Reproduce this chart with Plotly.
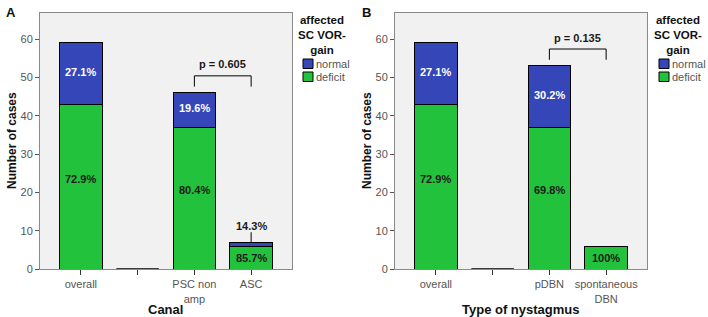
import plotly.graph_objects as go

# ---------------- data ----------------
cats_a = ["overall", " ", "PSC non<br>amp", "ASC"]
deficit_a = [43, 0, 37, 6]
normal_a = [16, 0, 9, 1]

cats_b = ["overall", " ", "pDBN", "spontaneous<br>DBN"]
deficit_b = [43, 0, 37, 6]
normal_b = [16, 0, 16, 0]

series_names = ["normal", "deficit"]
legend_title = "affected<br>SC VOR-<br>gain"

p_a = "p = 0.605"
p_b = "p = 0.135"

BLUE = "#3446b8"
GREEN = "#22c23c"
FONT = "Arial, Liberation Sans, sans-serif"
TICKC = "#555555"
W, H = 708, 317

fig = go.Figure()

def pct(a, tot):
    v = 100.0 * a / tot
    return "100%" if round(v, 1) == 100 else f"{v:.1f}%"

panels = [
    dict(cats=cats_a, d=deficit_a, n=normal_a, xa="x", ya="y", p=p_a, title="Canal",
         dom=[40 / W, 292 / W], legx=303, letter="A", letx=4),
    dict(cats=cats_b, d=deficit_b, n=normal_b, xa="x2", ya="y2", p=p_b, title="Type of nystagmus",
         dom=[395 / W, 647 / W], legx=659, letter="B", letx=360),
]

annotations = []
shapes = []
YMAX = 66.8
ydom = [1 - 269 / H, 1 - 13 / H]

for k, P in enumerate(panels):
    fig.add_trace(go.Bar(x=P["cats"], y=P["d"], name="deficit", marker=dict(color=GREEN, line=dict(color="black", width=1)),
                         xaxis=P["xa"], yaxis=P["ya"], width=0.75, hoverinfo="skip", showlegend=False))
    fig.add_trace(go.Bar(x=P["cats"], y=P["n"], name="normal", marker=dict(color=BLUE, line=dict(color="black", width=1)),
                         xaxis=P["xa"], yaxis=P["ya"], width=0.75, hoverinfo="skip", showlegend=False))
    for i, (d, n) in enumerate(zip(P["d"], P["n"])):
        tot = d + n
        if tot == 0:
            # zero-height bar outline for the empty category
            shapes.append(dict(type="line", xref=P["xa"], yref=P["ya"], x0=i - 0.375, x1=i + 0.375, y0=0, y1=0,
                               line=dict(color="black", width=1.5)))
            continue
        annotations.append(dict(xref=P["xa"], yref=P["ya"], x=P["cats"][i], y=min(d / 2 + 2, d - 3) if d > 10 else d / 2,
                                text="<b>" + pct(d, tot) + "</b>", showarrow=False,
                                font=dict(family=FONT, size=11, color="#1a1a1a")))
        if n > 0:
            if n >= 4:
                annotations.append(dict(xref=P["xa"], yref=P["ya"], x=P["cats"][i], y=d + n / 2 + 0.5,
                                        text="<b>" + pct(n, tot) + "</b>", showarrow=False,
                                        font=dict(family=FONT, size=11, color="white")))
            else:
                shapes.append(dict(type="line", xref=P["xa"], yref=P["ya"], x0=i, x1=i, y0=tot, y1=tot + 2.6,
                                   line=dict(color="black", width=1)))
                annotations.append(dict(xref=P["xa"], yref=P["ya"], x=P["cats"][i], y=tot + 4.1,
                                        text="<b>" + pct(n, tot) + "</b>", showarrow=False,
                                        font=dict(family=FONT, size=11, color="#1a1a1a")))
    # p-value bracket between categories 2 and 3
    top = max(P["d"][2] + P["n"][2], P["d"][3] + P["n"][3])
    ybar = top + 4.4
    shapes.append(dict(type="path", xref=P["xa"], yref=P["ya"],
                       path=f"M 2,{ybar - 2.8} L 2,{ybar} L 3,{ybar} L 3,{ybar - 2.8}",
                       line=dict(color="black", width=1)))
    annotations.append(dict(xref=P["xa"], yref=P["ya"], x=2.5, y=ybar + 3.0, text="<b>" + P["p"] + "</b>",
                            showarrow=False, font=dict(family=FONT, size=11, color="#1a1a1a")))
    # axis titles
    annotations.append(dict(xref="paper", yref="paper", x=sum(P["dom"]) / 2, y=1 - 309 / H,
                            xanchor="center", yanchor="middle",
                            text="<b>" + P["title"] + "</b>", showarrow=False,
                            font=dict(family=FONT, size=13, color="#111")))
    annotations.append(dict(xref="paper", yref="paper", x=P["dom"][0] - 28 / W, y=sum(ydom) / 2,
                            xanchor="center", yanchor="middle",
                            text="<b>Number of cases</b>", textangle=-90, showarrow=False,
                            font=dict(family=FONT, size=12, color="#111")))
    # panel letter
    annotations.append(dict(xref="paper", yref="paper", x=P["letx"] / W, y=1 - 3 / H, xanchor="left", yanchor="top",
                            text="<b>" + P["letter"] + "</b>", showarrow=False,
                            font=dict(family=FONT, size=13, color="#111")))
    # legend (manual)
    lx = P["legx"]
    annotations.append(dict(xref="paper", yref="paper", x=(lx + 19) / W, y=1 - 35 / H,
                            xanchor="center", yanchor="middle",
                            text="<b>" + legend_title + "</b>", showarrow=False,
                            font=dict(family=FONT, size=11.5, color="#111")))
    for j, (nm, col) in enumerate(zip(series_names, [BLUE, GREEN])):
        y0 = 59 + 13 * j
        shapes.append(dict(type="rect", xref="paper", yref="paper", x0=lx / W, x1=(lx + 10) / W,
                           y0=1 - y0 / H, y1=1 - (y0 + 9.5) / H, fillcolor=col, line=dict(color="black", width=1)))
        annotations.append(dict(xref="paper", yref="paper", x=(lx + 11) / W, y=1 - (y0 + 5) / H,
                                xanchor="left", yanchor="middle", text=nm, showarrow=False,
                                font=dict(family=FONT, size=11, color="#555")))

xcommon = dict(range=[-0.72, 3.72], showline=True, mirror=True, linecolor="#8a8a8a", linewidth=1,
               ticks="outside", ticklen=5, tickcolor="#333", showgrid=False, zeroline=False,
               tickfont=dict(family=FONT, size=11, color=TICKC), fixedrange=True)
ycommon = dict(range=[0, YMAX], showline=True, mirror=True, linecolor="#8a8a8a", linewidth=1,
               ticks="outside", ticklen=4, tickcolor="#555", showgrid=False, zeroline=False, dtick=10,
               tickfont=dict(family=FONT, size=11, color=TICKC), domain=ydom, fixedrange=True)

fig.update_layout(
    width=W, height=H, margin=dict(l=0, r=0, t=0, b=0, autoexpand=False),
    paper_bgcolor="white", plot_bgcolor="#f1f1f1",
    barmode="stack", bargap=0.25, showlegend=False,
    xaxis=dict(domain=panels[0]["dom"], anchor="y", automargin=False, **xcommon),
    yaxis=dict(anchor="x", automargin=False, **ycommon),
    xaxis2=dict(domain=panels[1]["dom"], anchor="y2", automargin=False, **xcommon),
    yaxis2=dict(anchor="x2", automargin=False, **ycommon),
    annotations=annotations, shapes=shapes,
    font=dict(family=FONT),
)

fig.write_html("out.html", config={"displayModeBar": False},
               post_script="document.body.style.margin='0';document.body.style.overflow='hidden';")
